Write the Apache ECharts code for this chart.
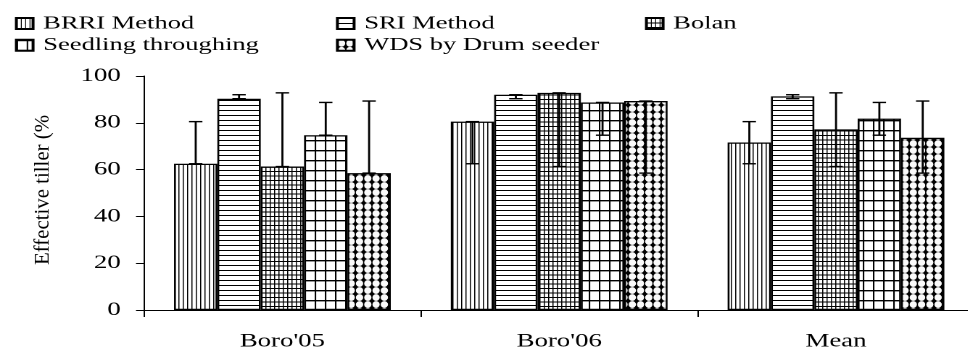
<!DOCTYPE html>
<html><head><meta charset="utf-8">
<script src="https://cdn.jsdelivr.net/npm/echarts@6/dist/echarts.min.js"></script>
<style>
html,body{margin:0;padding:0;overflow:hidden;background:#fff;width:968px;height:356px;}
#chart{width:672px;height:356px;transform:scaleX(1.45);transform-origin:0 0;}
</style></head><body><div id="chart"></div>
<script>
// ---- data ----
const categories = ["Boro'05", "Boro'06", "Mean"];
const seriesNames = ['BRRI Method', 'SRI Method', 'Bolan', 'Seedling throughing', 'WDS by Drum seeder'];
const brriValues = [62.5, 80.5, 71.6];
const sriValues = [90.3, 92.0, 91.3];
const bolanValues = [61.3, 92.8, 77.2];
const seedlingValues = [74.7, 88.7, 81.8];
const wdsValues = [58.5, 89.3, 73.6];
const brriErrLow = [62.5, 62.5, 62.5];
const brriErrHigh = [80.5, 80.5, 80.5];
const sriErrLow = [90.3, 90.3, 90.3];
const sriErrHigh = [92.0, 92.0, 92.0];
const bolanErrLow = [61.3, 61.3, 61.3];
const bolanErrHigh = [92.8, 92.8, 92.8];
const seedlingErrLow = [74.7, 74.7, 74.7];
const seedlingErrHigh = [88.7, 88.7, 88.7];
const wdsErrLow = [58.5, 58.5, 58.5];
const wdsErrHigh = [89.3, 89.3, 89.3];
const yAxisName = 'Effective tiller (%';
const yMin = 0, yMax = 100, yStep = 20;

const allValues = [brriValues, sriValues, bolanValues, seedlingValues, wdsValues];
const allLow = [brriErrLow, sriErrLow, bolanErrLow, seedlingErrLow, wdsErrLow];
const allHigh = [brriErrHigh, sriErrHigh, bolanErrHigh, seedlingErrHigh, wdsErrHigh];

// ---- patterns ----
const R = 4;
function makePattern(w, h, draw) {
  const c = document.createElement('canvas');
  c.width = Math.round(w * R); c.height = Math.round(h * R);
  const ctx = c.getContext('2d');
  ctx.scale(c.width / w, c.height / h);
  draw(ctx, w, h);
  return { image: c, repeat: 'repeat', scaleX: w / c.width, scaleY: h / c.height };
}
const SX = 1.45;
const patterns = [
  makePattern(3, 3, (ctx, w, h) => { ctx.fillStyle = '#fff'; ctx.fillRect(0, 0, w, h); ctx.fillStyle = '#000'; ctx.fillRect(0, 0, 0.75, h); }),
  makePattern(3, 5, (ctx, w, h) => { ctx.fillStyle = '#fff'; ctx.fillRect(0, 0, w, h); ctx.fillStyle = '#000'; ctx.fillRect(0, 0, w, 1); }),
  makePattern(3, 4.5, (ctx, w, h) => { ctx.fillStyle = '#fff'; ctx.fillRect(0, 0, w, h); ctx.fillStyle = '#000'; ctx.fillRect(0, 0, 0.75, h); ctx.fillRect(0, 0, w, 1); }),
  makePattern(7, 10, (ctx, w, h) => { ctx.fillStyle = '#fff'; ctx.fillRect(0, 0, w, h); ctx.fillStyle = '#000'; ctx.fillRect(0, 0, 1.05, h); ctx.fillRect(0, 0, w, 1.4); }),
  makePattern(5.7, 7, (ctx, w, h) => { ctx.fillStyle = '#000'; ctx.fillRect(0, 0, w, h); ctx.fillStyle = '#fafafa'; ctx.beginPath(); ctx.ellipse(w / 2, h / 2, 3.6 / SX, 3.4, 0, 0, Math.PI * 2); ctx.fill(); })
];

const CAT_GAP = 0.217;
const font = '"Liberation Serif", "Times New Roman", serif';

const series = [];
seriesNames.forEach((name, i) => {
  series.push({
    name: name, type: 'bar', data: allValues[i],
    barGap: '0%', barCategoryGap: (CAT_GAP * 100) + '%',
    itemStyle: { color: patterns[i], borderColor: '#000', borderWidth: 1.3 },
    emphasis: { disabled: true }, z: 2
  });
});
seriesNames.forEach((name, i) => {
  series.push({
    name: 'err-' + i, type: 'custom', z: 5,
    data: categories.map((c, k) => [k, allLow[i][k], allHigh[i][k]]),
    encode: { x: 0, y: [1, 2] },
    renderItem: function (params, api) {
      const k = api.value(0);
      const band = api.size([1, 0])[0];
      const barW = band * (1 - CAT_GAP) / seriesNames.length;
      const cx = api.coord([k, 0])[0] + (i - (seriesNames.length - 1) / 2) * barW;
      const yl = api.coord([k, api.value(1)])[1];
      const yh = api.coord([k, api.value(2)])[1];
      const cap = 4.6;
      const st = { stroke: '#000', lineWidth: 1.4 };
      return { type: 'group', children: [
        { type: 'line', shape: { x1: cx, y1: yl, x2: cx, y2: yh }, style: st },
        { type: 'line', shape: { x1: cx - cap, y1: yh, x2: cx + cap, y2: yh }, style: st },
        { type: 'line', shape: { x1: cx - cap, y1: yl, x2: cx + cap, y2: yl }, style: st }
      ]};
    }
  });
});

const legendBase = {
  orient: 'vertical', top: 14.5, itemGap: 3.8, itemWidth: 11.5, itemHeight: 11, icon: 'rect', padding: 0,
  textStyle: { fontFamily: font, fontSize: 18.3, color: '#000', lineHeight: 18, padding: [0, 0, 0, 2] },
  selectedMode: false
};

const chart = echarts.init(document.getElementById('chart'), null, { devicePixelRatio: 2 });
chart.setOption({
  animation: false,
  backgroundColor: '#fff',
  legend: [
    Object.assign({}, legendBase, { left: 10.3, data: [seriesNames[0], seriesNames[3]] }),
    Object.assign({}, legendBase, { left: 231.7, data: [seriesNames[1], seriesNames[4]] }),
    Object.assign({}, legendBase, { left: 444.8, data: [seriesNames[2]] })
  ],
  grid: { left: 99.3, right: 0, top: 76, bottom: 46, containLabel: false },
  xAxis: {
    type: 'category', data: categories,
    axisLine: { lineStyle: { color: '#000', width: 1 } },
    axisTick: { show: true, length: 7, lineStyle: { color: '#000' } },
    axisLabel: { fontFamily: font, fontSize: 18.5, color: '#000', margin: 22 }
  },
  yAxis: {
    type: 'value', min: yMin, max: yMax, interval: yStep,
    splitLine: { show: false },
    axisLine: { show: true, lineStyle: { color: '#000', width: 1 } },
    axisTick: { show: true, length: 5.5, lineStyle: { color: '#000' } },
    axisLabel: { fontFamily: font, fontSize: 18.5, color: '#000', margin: 16 }
  },
  graphic: [{
    type: 'text', x: 29.7, y: 190, rotation: Math.PI / 2, scaleX: 1.39,
    style: { text: yAxisName, font: '15px ' + font, fill: '#000', textAlign: 'center', textVerticalAlign: 'middle' }
  }],
  series: series
});
</script></body></html>
